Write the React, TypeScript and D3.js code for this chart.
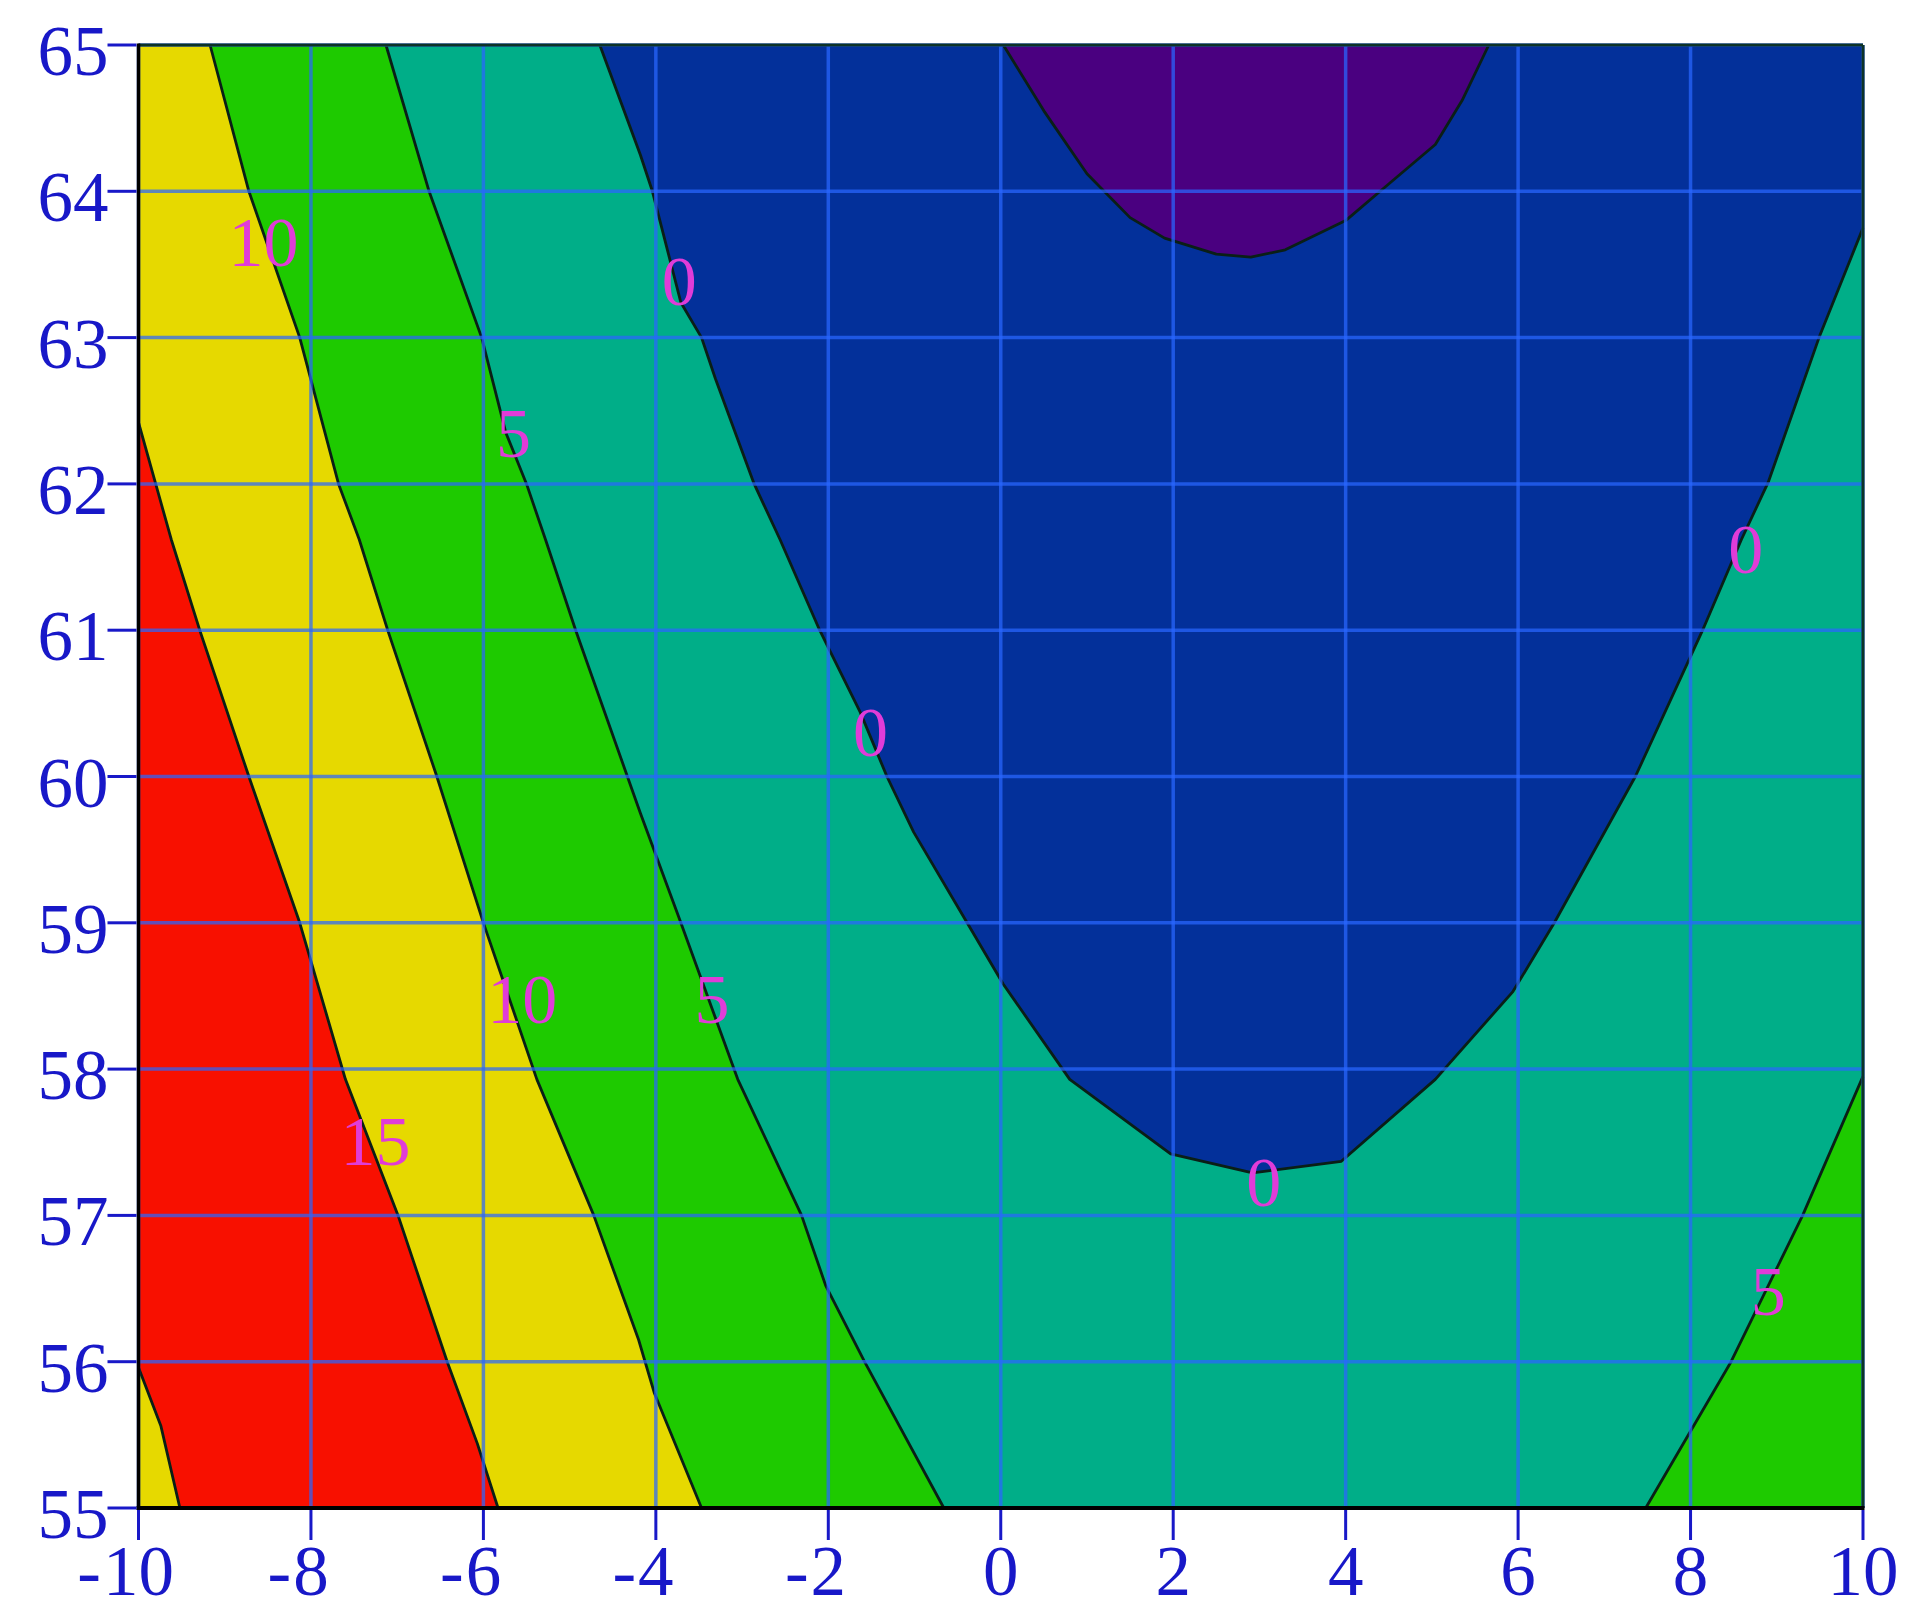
import React from "react";
import * as d3 from "d3";

type P = [number, number];

const xTicks = [-10, -8, -6, -4, -2, 0, 2, 4, 6, 8, 10];
const yTicks = [55, 56, 57, 58, 59, 60, 61, 62, 63, 64, 65];

// contour lines, [x, y]
const line15Upper: P[] = [[-10, 62.42], [-9.62, 61.62], [-9.29, 61], [-8.72, 60], [-8.13, 59], [-7.6, 57.93], [-6.99, 57], [-6.42, 56], [-6.07, 55.44], [-5.83, 55]];
const line15Lower: P[] = [[-10, 55.96], [-9.74, 55.56], [-9.52, 55]];
const line10: P[] = [[-9.17, 65], [-8.72, 64], [-8.13, 63], [-7.68, 62], [-7.44, 61.62], [-7.11, 61], [-6.54, 60], [-6.0, 59], [-5.38, 57.93], [-4.72, 57], [-4.2, 56.15], [-4.02, 55.79], [-3.47, 55]];
const line5Left: P[] = [[-7.13, 65], [-6.63, 64], [-6.02, 63], [-5.74, 62.35], [-5.5, 62], [-5.28, 61.62], [-4.93, 61], [-4.33, 60], [-4.18, 59.75], [-3.71, 59], [-3.05, 57.93], [-2.31, 57], [-2.03, 56.52], [-1.58, 56], [-0.66, 55]];
const line5Right: P[] = [[7.48, 55], [8.47, 56], [9.3, 57], [10, 57.95]];
const line0: P[] = [[-4.65, 65], [-4.18, 64.25], [-4.04, 64], [-3.71, 63.24], [-3.47, 63], [-3.31, 62.72], [-2.86, 62], [-2.56, 61.62], [-2.1, 61], [-1.63, 60.44], [-1.32, 60], [-1.01, 59.62], [-0.39, 59], [0.03, 58.58], [0.8, 57.93], [1.97, 57.42], [2.92, 57.29], [3.95, 57.37], [5.04, 57.93], [5.94, 58.53], [6.42, 59], [7.36, 60], [8.14, 61], [8.59, 61.62], [8.9, 62.01], [9.49, 63], [10, 63.75]];
const lineNeg5: P[] = [[0.03, 65], [0.5, 64.55], [1.0, 64.12], [1.5, 63.82], [1.9, 63.68], [2.5, 63.57], [2.9, 63.55], [3.3, 63.6], [4.0, 63.8], [4.4, 64.0], [5.04, 64.32], [5.35, 64.62], [5.66, 65]];

const contourLabels = [
  { text: "10", x: -8.55, y: 63.65 },
  { text: "0", x: -3.73, y: 63.38 },
  { text: "5", x: -5.65, y: 62.34 },
  { text: "0", x: 8.64, y: 61.55 },
  { text: "0", x: -1.51, y: 60.3 },
  { text: "10", x: -5.55, y: 58.47 },
  { text: "5", x: -3.35, y: 58.47 },
  { text: "15", x: -7.25, y: 57.5 },
  { text: "0", x: 3.05, y: 57.22 },
  { text: "5", x: 8.9, y: 56.48 },
];

const C = {
  red: "#F81000",
  yellow: "#E6D900",
  green: "#1ECA00",
  teal: "#00AE88",
  blue: "#03309A",
  purple: "#4A0080",
};

export default function App() {
  const W = 1920, H = 1622;
  const x = d3.scaleLinear().domain([-10, 10]).range([138.5, 1863]);
  const y = d3.scaleLinear().domain([55, 65]).range([1508, 45]);
  const line = d3.line<P>().x((d) => x(d[0])).y((d) => y(d[1]));
  const poly = (pts: P[]) => (line(pts) || "") + "Z";

  const [x0, x1] = x.domain();
  const [y0, y1] = y.domain();

  const regions = [
    { fill: C.teal, pts: [[x0, y0], [x1, y0], [x1, y1], [x0, y1]] as P[] },
    { fill: C.green, pts: [...line5Left, [x0, y0], [x0, y1]] as P[] },
    { fill: C.green, pts: [...line5Right, [x1, y0]] as P[] },
    { fill: C.yellow, pts: [...line10, [x0, y0], [x0, y1]] as P[] },
    { fill: C.red, pts: [...line15Upper, ...line15Lower.slice().reverse()] as P[] },
    { fill: C.blue, pts: [...line0, [x1, y1]] as P[] },
    { fill: C.purple, pts: lineNeg5 },
  ];
  const lines = [line15Upper, line15Lower, line10, line5Left, line5Right, line0, lineNeg5];

  const fs = 71;
  const font = "'Liberation Serif', 'Times New Roman', serif";
  const tickColor = "#1818C8";
  const labelFs = 70;

  return (
    <div style={{ position: "absolute", left: 0, top: 0 }}>
      <svg width={W} height={H} style={{ display: "block", background: "#fff" }}>
        <g>
          {regions.map((r, i) => (
            <path key={i} d={poly(r.pts)} fill={r.fill} stroke="none" />
          ))}
        </g>
        <g>
          {lines.map((l, i) => (
            <path key={i} d={line(l) || ""} fill="none" stroke="#0a1f16" strokeWidth={2.8} strokeLinejoin="round" />
          ))}
        </g>
        <g stroke="#2a66ff" strokeOpacity={0.72} strokeWidth={3.5}>
          {xTicks.map((t) => (
            <line key={"gx" + t} x1={x(t)} x2={x(t)} y1={y(y1)} y2={y(y0)} />
          ))}
          {yTicks.map((t) => (
            <line key={"gy" + t} x1={x(x0)} x2={x(x1)} y1={y(t)} y2={y(t)} />
          ))}
        </g>
        <g>
          {contourLabels.map((l, i) => (
            <text key={i} x={x(l.x)} y={y(l.y) + 0.33 * labelFs} textAnchor="middle" fontFamily={font} fontSize={labelFs} fill="#E03CD8">
              {l.text}
            </text>
          ))}
        </g>
        {/* frame */}
        <line x1={x(x0)} x2={x(x1)} y1={y(y1)} y2={y(y1)} stroke="#0d3326" strokeWidth={3} />
        <line x1={x(x1)} x2={x(x1)} y1={y(y1)} y2={y(y0)} stroke="#0d3326" strokeWidth={3} />
        <line x1={x(x0)} x2={x(x0)} y1={y(y1) - 1.5} y2={y(y0) + 2} stroke="#000" strokeWidth={3.5} />
        <line x1={x(x0) - 2} x2={x(x1) + 1.5} y1={y(y0)} y2={y(y0)} stroke="#000" strokeWidth={4} />
        {/* y axis */}
        <g>
          {yTicks.map((t) => (
            <g key={"yt" + t}>
              <line x1={x(x0) - 31} x2={x(x0) - 2} y1={y(t)} y2={y(t)} stroke={tickColor} strokeWidth={3} />
              <text x={x(x0) - 30} y={y(t) + 30} textAnchor="end" fontFamily={font} fontSize={fs} fill={tickColor}>
                {t}
              </text>
            </g>
          ))}
        </g>
        {/* x axis */}
        <g>
          {xTicks.map((t) => {
            const abs = String(Math.abs(t));
            const tx = x(t);
            return (
              <g key={"xt" + t}>
                <line x1={tx} x2={tx} y1={y(y0) + 2} y2={y(y0) + 32} stroke={tickColor} strokeWidth={3} />
                <text x={tx} y={1595} textAnchor="middle" fontFamily={font} fontSize={fs} fill={tickColor}>
                  {abs}
                </text>
                {t < 0 && (
                  <text x={tx - abs.length * 0.25 * fs - 2} y={1595} textAnchor="end" fontFamily={font} fontSize={fs} fill={tickColor}>
                    -
                  </text>
                )}
              </g>
            );
          })}
        </g>
      </svg>
    </div>
  );
}
